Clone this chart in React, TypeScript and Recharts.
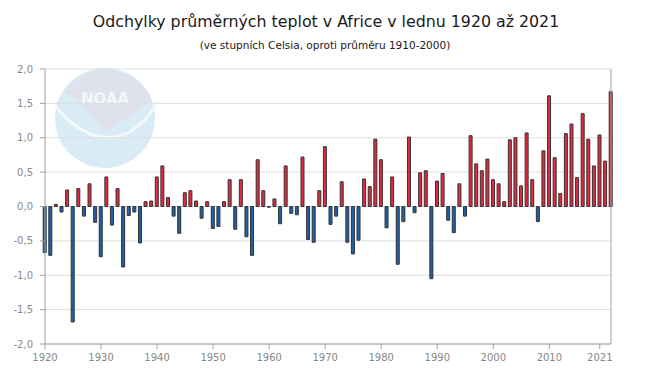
import { BarChart, Bar, XAxis, YAxis, CartesianGrid, Cell } from 'recharts';

const firstYear = 1920;
const years = Array.from({ length: 102 }, (_, i) => firstYear + i);

// odchylka od průměru 1910-2000, °C
const anomalies = [
  -0.67, -0.71, 0.03, -0.08, 0.24, -1.68, 0.26, -0.14, 0.33, -0.23,
  -0.73, 0.43, -0.27, 0.26, -0.88, -0.13, -0.08, -0.53, 0.07, 0.08,
  0.43, 0.59, 0.13, -0.14, -0.39, 0.2, 0.23, 0.08, -0.17, 0.07,
  -0.32, -0.29, 0.07, 0.39, -0.33, 0.39, -0.44, -0.71, 0.68, 0.23,
  -0.01, 0.11, -0.25, 0.59, -0.1, -0.12, 0.72, -0.48, -0.52, 0.23,
  0.87, -0.26, -0.14, 0.36, -0.52, -0.69, -0.49, 0.4, 0.29, 0.98,
  0.68, -0.31, 0.43, -0.84, -0.22, 1.01, -0.09, 0.49, 0.52, -1.05,
  0.37, 0.48, -0.2, -0.38, 0.33, -0.14, 1.03, 0.62, 0.52, 0.69,
  0.39, 0.33, 0.07, 0.97, 1.0, 0.3, 1.07, 0.39, -0.22, 0.81,
  1.61, 0.71, 0.19, 1.06, 1.2, 0.42, 1.35, 0.98, 0.59, 1.04,
  0.66, 1.67,
];

// popisky osy x jsou v originále rozložené po 99 dílcích
const xTickSteps = [0, 10, 20, 30, 40, 50, 60, 70, 80, 90, 99];
const xTickLabels = ['1920', '1930', '1940', '1950', '1960', '1970', '1980', '1990', '2000', '2010', '2021'];
const yTicks = [-2, -1.5, -1, -0.5, 0, 0.5, 1, 1.5, 2];

const data = years.map((year, i) => ({ year, value: anomalies[i] }));

const font = '"DejaVu Sans", Verdana, sans-serif';
const axisColor = '#a0a0a0';

function NoaaLogo() {
  return (
    <svg width={650} height={380} style={{ position: 'absolute', left: 0, top: 0 }}>
      <circle cx={105} cy={118} r={50} fill="#d9ebf5" />
      <path d="M 65 92 A 50 50 0 0 1 152 100 Q 128 118 105 132 Q 88 108 65 92 Z" fill="#dfe2ed" />
      <path d="M 56 107 Q 92 150 130 132 Q 148 121 158 100" fill="none" stroke="#f3f8fb" strokeWidth={3} />
      <text x={105} y={104} textAnchor="middle" fontFamily={font} fontWeight="bold" fontSize={15} fill="#f4f6fa">
        NOAA
      </text>
    </svg>
  );
}

export default function App() {
  return (
    <div style={{ position: 'absolute', left: 0, top: 0, width: 650, height: 380, background: '#fff' }}>
      <NoaaLogo />
      <div style={{ position: 'absolute', left: 1, top: 12, width: 650, textAlign: 'center', fontFamily: font, fontSize: 15.8, color: '#1a1a1a' }}>
        Odchylky průměrných teplot v Africe v lednu 1920 až 2021
      </div>
      <div style={{ position: 'absolute', left: 0, top: 39, width: 650, textAlign: 'center', fontFamily: font, fontSize: 10.5, color: '#1a1a1a' }}>
        (ve stupních Celsia, oproti průměru 1910-2000)
      </div>
      <div style={{ position: 'absolute', left: 0, top: 0 }}>
        <BarChart width={650} height={380} data={data} margin={{ top: 69, right: 0, bottom: 0, left: 0 }}>
          <CartesianGrid horizontal vertical={false} stroke="#dedede" yAxisId="left" xAxisId="yr" />
          <XAxis xAxisId="yr" dataKey="year" type="number" domain={[1920, 2021]} hide />
          <XAxis
            xAxisId="lbl"
            type="number"
            domain={[0, 99]}
            allowDataOverflow
            ticks={xTickSteps}
            tickFormatter={(v: number) => xTickLabels[xTickSteps.indexOf(v)]}
            height={36}
            tickSize={5}
            tickMargin={5}
            stroke={axisColor}
            tick={{ fill: '#888', fontSize: 10, fontFamily: font }}
          />
          <YAxis
            yAxisId="left"
            domain={[-2, 2]}
            ticks={yTicks}
            tickFormatter={(v: number) => v.toFixed(1).replace('.', ',')}
            width={45}
            tickSize={5}
            tickMargin={7}
            stroke={axisColor}
            tick={{ fill: '#888', fontSize: 10, fontFamily: font }}
          />
          <YAxis
            yAxisId="right"
            orientation="right"
            domain={[-2, 2]}
            ticks={yTicks}
            tickFormatter={() => ''}
            width={39}
            tickSize={5}
            stroke={axisColor}
          />
          <Bar dataKey="value" xAxisId="yr" yAxisId="left" barSize={3} stroke="#333" strokeWidth={1} isAnimationActive={false}>
            {data.map((d) => (
              <Cell key={d.year} fill={d.value >= 0 ? '#e5283d' : '#2060aa'} />
            ))}
          </Bar>
        </BarChart>
      </div>
    </div>
  );
}
